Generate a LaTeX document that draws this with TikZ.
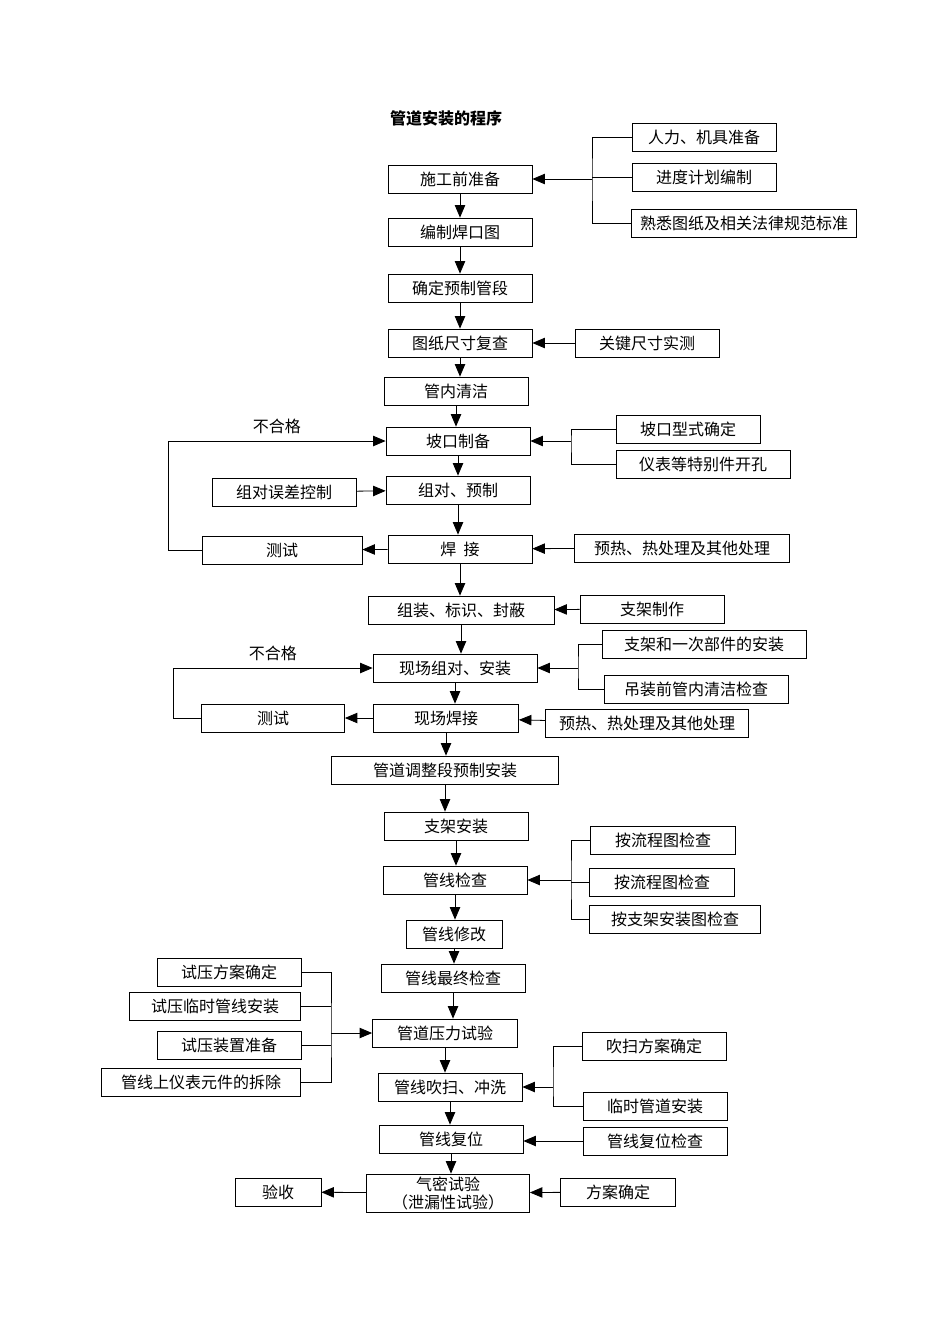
\documentclass[tikz,border=0pt]{standalone}
\usepackage{fontspec}
\setmainfont{Noto Sans CJK SC}
\usetikzlibrary{shapes,arrows}
\begin{document}
\begin{tikzpicture}[x=0.5pt, y=-0.5pt, font=\fontsize{8}{9}\selectfont]
\tikzstyle{boxr}=[rectangle, draw, thin, minimum height=14pt, inner sep=1pt]
\tikzstyle{w}=[minimum width=#1*0.5pt]
\tikzstyle{drawstyle}=[thin, -triangle 45]
\tikzstyle{linestyle}=[thin]
\useasboundingbox (0,0) rectangle (950,1344);

\node[font=\fontsize{8}{9}\selectfont\bfseries] (T) at (446,118) {管道安装的程序};

% main column
\node[boxr, w=144] (A1) at (460,179) {施工前准备};
\node[boxr, w=144] (A2) at (460,232) {编制焊口图};
\node[boxr, w=144] (A3) at (460,288) {确定预制管段};
\node[boxr, w=144] (A4) at (460,343) {图纸尺寸复查};
\node[boxr, w=144] (A5) at (456,391) {管内清洁};
\node[boxr, w=144] (A6) at (458,441) {坡口制备};
\node[boxr, w=144] (A7) at (458,490) {组对、预制};
\node[boxr, w=144] (A8) at (460,549) {焊\ \ 接};
\node[boxr, w=186] (A9) at (461,610) {组装、标识、封蔽};
\node[boxr, w=164] (A10) at (455,668) {现场组对、安装};
\node[boxr, w=145] (A11) at (446,718) {现场焊接};
\node[boxr, w=227] (A12) at (445,770) {管道调整段预制安装};
\node[boxr, w=144] (A13) at (456,826) {支架安装};
\node[boxr, w=144] (A14) at (455,880) {管线检查};
\node[boxr, w=96] (A15) at (454,934) {管线修改};
\node[boxr, w=144] (A16) at (453,978) {管线最终检查};
\node[boxr, w=145] (A17) at (445,1033) {管道压力试验};
\node[boxr, w=144] (A18) at (450,1087) {管线吹扫、冲洗};
\node[boxr, w=144] (A19) at (451,1139) {管线复位};
\node[boxr, w=163, minimum height=19pt, align=center, inner sep=0pt] (A20) at (448,1193) {气密试验\\（泄漏性试验）};

\foreach \a/\b in {A1/A2,A2/A3,A3/A4,A4/A5,A5/A6,A6/A7,A7/A8,A8/A9,A9/A10,A10/A11,A11/A12,A12/A13,A13/A14,A14/A15,A15/A16,A16/A17,A17/A18,A18/A19,A19/A20}
  \draw[drawstyle] (\a) -- (\a |- \b.north);

% side boxes
\node[boxr, w=144] (R1a) at (704,137) {人力、机具准备};
\node[boxr, w=144] (R1b) at (704,177) {进度计划编制};
\node[boxr, w=225] (R1c) at (744,223) {熟悉图纸及相关法律规范标准};
\coordinate (J1) at (592,179);
\draw[linestyle] (R1a.west) -| (J1) |- (R1c.west);
\draw[linestyle] (R1b.west) -- (R1b.west -| J1);
\draw[drawstyle] (J1) -- (A1.east);

\node[boxr, w=144] (R4) at (647,343) {关键尺寸实测};
\draw[drawstyle] (R4) -- (A4);

\node[boxr, w=144] (R6a) at (688,429) {坡口型式确定};
\node[boxr, w=174] (R6b) at (703,464) {仪表等特别件开孔};
\coordinate (J6) at (571,441);
\draw[linestyle] (R6a.west) -| (J6) |- (R6b.west);
\draw[drawstyle] (J6) -- (A6.east);

\node[boxr, w=144] (L7) at (284,492) {组对误差控制};
\draw[drawstyle] (L7) -- (A7);

\node[boxr, w=215] (R8) at (682,548) {预热、热处理及其他处理};
\draw[drawstyle] (R8) -- (A8);
\node[boxr, w=160] (L8) at (282,550) {测试};
\draw[drawstyle] (A8) -- (L8);
\coordinate (K8) at (168,550);
\draw[drawstyle] (L8.west) -- (K8) |- (A6.west) node[pos=0.75, above] {不合格};

\node[boxr, w=144] (R9) at (652,609) {支架制作};
\draw[drawstyle] (R9) -- (A9);

\node[boxr, w=204] (R10a) at (704,644) {支架和一次部件的安装};
\node[boxr, w=184] (R10b) at (696,689) {吊装前管内清洁检查};
\coordinate (J10) at (578,668);
\draw[linestyle] (R10a.west) -| (J10) |- (R10b.west);
\draw[drawstyle] (J10) -- (A10.east);

\node[boxr, w=203] (R11) at (647,723) {预热、热处理及其他处理};
\draw[drawstyle] (R11) -- (A11);
\node[boxr, w=143] (L11) at (273,718) {测试};
\draw[drawstyle] (A11) -- (L11);
\coordinate (K11) at (173,718);
\draw[drawstyle] (L11.west) -- (K11) |- (A10.west) node[pos=0.75, above] {不合格};

\node[boxr, w=145] (R14a) at (663,840) {按流程图检查};
\node[boxr, w=145] (R14b) at (662,882) {按流程图检查};
\node[boxr, w=171] (R14c) at (675,919) {按支架安装图检查};
\coordinate (J14) at (571,880);
\draw[linestyle] (R14a.west) -| (J14) |- (R14c.west);
\draw[linestyle] (R14b.west) -- (R14b.west -| J14);
\draw[drawstyle] (J14) -- (A14.east);

\node[boxr, w=144] (L17a) at (229,972) {试压方案确定};
\node[boxr, w=171] (L17b) at (215,1006) {试压临时管线安装};
\node[boxr, w=144] (L17c) at (229,1045) {试压装置准备};
\node[boxr, w=199] (L17d) at (201,1082) {管线上仪表元件的拆除};
\coordinate (J17) at (331,1033);
\draw[linestyle] (L17a.east) -| (J17) |- (L17d.east);
\draw[linestyle] (L17b.east) -- (L17b.east -| J17);
\draw[linestyle] (L17c.east) -- (L17c.east -| J17);
\draw[drawstyle] (J17) -- (A17.west);

\node[boxr, w=144] (R18a) at (654,1046) {吹扫方案确定};
\node[boxr, w=144] (R18b) at (655,1106) {临时管道安装};
\coordinate (J18) at (553,1087);
\draw[linestyle] (R18a.west) -| (J18) |- (R18b.west);
\draw[drawstyle] (J18) -- (A18.east);

\node[boxr, w=144] (R19) at (655,1141) {管线复位检查};
\draw[drawstyle] (R19.west) -- (R19.west -| A19.east);

\node[boxr, w=115] (R20) at (618,1192) {方案确定};
\draw[drawstyle] (R20) -- (A20);
\node[boxr, w=86] (L20) at (278,1192) {验收};
\draw[drawstyle] (A20) -- (L20);
\end{tikzpicture}
\end{document}
